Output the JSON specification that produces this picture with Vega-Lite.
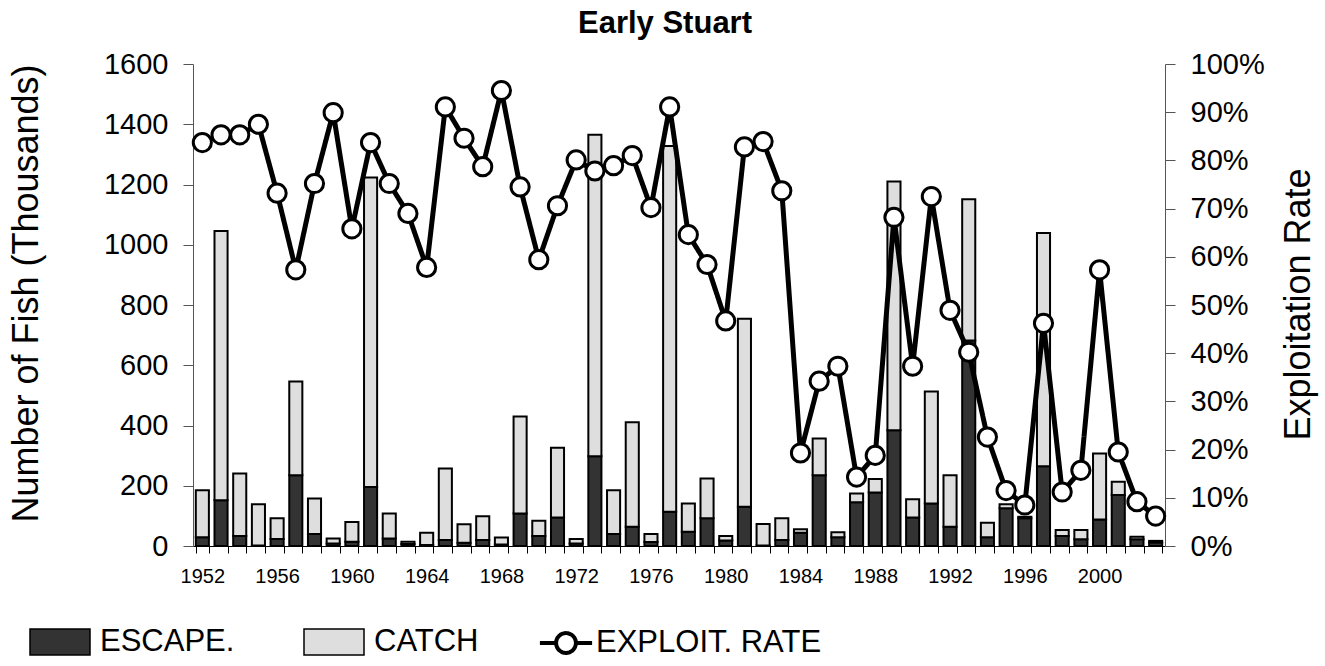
{
  "$schema": "https://vega.github.io/schema/vega-lite/v6.json",
  "width": 972,
  "height": 482,
  "autosize": {"type": "none"},
  "padding": {"left": 193, "top": 64, "right": 160, "bottom": 120},
  "background": "white",
  "config": {"font": "Liberation Sans", "view": {"stroke": null}, "axis": {"grid": false}},
  "title": {"text": "Early Stuart", "fontSize": 31, "fontWeight": "bold", "font": "Liberation Sans", "color": "black", "baseline": "alphabetic", "offset": -14, "dx": -14, "anchor": "middle"},
  "data": {"values": [
    {"year": 1952, "escape": 29, "catch": 156, "rate": 0.837},
    {"year": 1953, "escape": 152, "catch": 894, "rate": 0.853},
    {"year": 1954, "escape": 33, "catch": 208, "rate": 0.853},
    {"year": 1955, "escape": 2, "catch": 137, "rate": 0.875},
    {"year": 1956, "escape": 23, "catch": 69, "rate": 0.732},
    {"year": 1957, "escape": 235, "catch": 311, "rate": 0.573},
    {"year": 1958, "escape": 40, "catch": 118, "rate": 0.752},
    {"year": 1959, "escape": 8, "catch": 17, "rate": 0.899},
    {"year": 1960, "escape": 14, "catch": 66, "rate": 0.658},
    {"year": 1961, "escape": 196, "catch": 1027, "rate": 0.837},
    {"year": 1962, "escape": 25, "catch": 83, "rate": 0.752},
    {"year": 1963, "escape": 7, "catch": 7, "rate": 0.69},
    {"year": 1964, "escape": 3, "catch": 41, "rate": 0.578},
    {"year": 1965, "escape": 20, "catch": 237, "rate": 0.911},
    {"year": 1966, "escape": 11, "catch": 61, "rate": 0.846},
    {"year": 1967, "escape": 20, "catch": 79, "rate": 0.787},
    {"year": 1968, "escape": 5, "catch": 23, "rate": 0.945},
    {"year": 1969, "escape": 108, "catch": 322, "rate": 0.745},
    {"year": 1970, "escape": 33, "catch": 51, "rate": 0.594},
    {"year": 1971, "escape": 95, "catch": 231, "rate": 0.706},
    {"year": 1972, "escape": 8, "catch": 15, "rate": 0.801},
    {"year": 1973, "escape": 298, "catch": 1067, "rate": 0.778},
    {"year": 1974, "escape": 40, "catch": 145, "rate": 0.789},
    {"year": 1975, "escape": 64, "catch": 347, "rate": 0.81},
    {"year": 1976, "escape": 13, "catch": 27, "rate": 0.702},
    {"year": 1977, "escape": 114, "catch": 1214, "rate": 0.911},
    {"year": 1978, "escape": 47, "catch": 94, "rate": 0.646},
    {"year": 1979, "escape": 92, "catch": 132, "rate": 0.584},
    {"year": 1980, "escape": 18, "catch": 15, "rate": 0.467},
    {"year": 1981, "escape": 130, "catch": 624, "rate": 0.828},
    {"year": 1982, "escape": 2, "catch": 71, "rate": 0.839},
    {"year": 1983, "escape": 20, "catch": 72, "rate": 0.737},
    {"year": 1984, "escape": 44, "catch": 12, "rate": 0.193},
    {"year": 1985, "escape": 235, "catch": 122, "rate": 0.342},
    {"year": 1986, "escape": 29, "catch": 17, "rate": 0.373},
    {"year": 1987, "escape": 145, "catch": 29, "rate": 0.143},
    {"year": 1988, "escape": 178, "catch": 44, "rate": 0.188},
    {"year": 1989, "escape": 384, "catch": 826, "rate": 0.682},
    {"year": 1990, "escape": 95, "catch": 60, "rate": 0.373},
    {"year": 1991, "escape": 141, "catch": 372, "rate": 0.725},
    {"year": 1992, "escape": 64, "catch": 171, "rate": 0.489},
    {"year": 1993, "escape": 682, "catch": 469, "rate": 0.402},
    {"year": 1994, "escape": 29, "catch": 48, "rate": 0.226},
    {"year": 1995, "escape": 125, "catch": 14, "rate": 0.115},
    {"year": 1996, "escape": 92, "catch": 5, "rate": 0.085},
    {"year": 1997, "escape": 265, "catch": 774, "rate": 0.462},
    {"year": 1998, "escape": 33, "catch": 20, "rate": 0.112},
    {"year": 1999, "escape": 22, "catch": 31, "rate": 0.157},
    {"year": 2000, "escape": 88, "catch": 219, "rate": 0.573},
    {"year": 2001, "escape": 169, "catch": 44, "rate": 0.195},
    {"year": 2002, "escape": 22, "catch": 9, "rate": 0.092},
    {"year": 2003, "escape": 12, "catch": 5, "rate": 0.062}
  ]},
  "layer": [
    {
      "transform": [{"fold": ["escape", "catch"], "as": ["series", "value"]}],
      "mark": {"type": "bar", "stroke": "black", "strokeWidth": 2, "opacity": 1},
      "encoding": {
        "x": {"field": "year", "type": "ordinal", "scale": {"paddingInner": 0.3, "paddingOuter": 0.15},
          "axis": {"title": null, "labelAngle": 0, "labelExpr": "datum.value % 4 == 0 ? datum.label : ''", "labelOverlap": false, "tickBand": "extent", "tickSize": 7, "labelPadding": 13, "labelFontSize": 20, "labelColor": "black", "domainColor": "black", "tickColor": "black", "labelFont": "Liberation Sans"}},
        "y": {"field": "value", "type": "quantitative", "stack": "zero", "scale": {"domain": [0, 1600], "nice": false},
          "axis": {"orient": "left", "values": [0, 200, 400, 600, 800, 1000, 1200, 1400, 1600], "format": "d", "title": "Number of Fish (Thousands)", "titleFontSize": 36, "titleFontWeight": "normal", "titleFont": "Liberation Sans", "titleColor": "black", "titleX": -156, "titleY": 229, "titleAngle": 270, "titleBaseline": "alphabetic", "titleAlign": "center", "labelFontSize": 29, "labelPadding": 15, "labelColor": "black", "tickSize": 10, "tickColor": "#555555", "domainColor": "#555555"}},
        "color": {"field": "series", "type": "nominal",
          "scale": {"domain": ["escape", "catch"], "range": ["#333333", "#dedede"]},
          "legend": {
            "orient": "none", "legendX": -164, "legendY": 547, "direction": "horizontal", "title": null,
            "labelFont": "Liberation Sans", "labelFontSize": 31, "labelColor": "black", "labelOffset": 9,
            "symbolType": "M-1,-0.433H1V0.433H-1Z", "symbolSize": 3600, "columnPadding": 66, "labelLimit": 400,
            "symbolStrokeColor": "black", "symbolStrokeWidth": 1.5, "symbolOpacity": 1,
            "labelExpr": "datum.value == 'escape' ? 'ESCAPE.' : 'CATCH'"
          }},
        "order": {"field": "series", "sort": "descending"}
      }
    },
    {
      "encoding": {
        "x": {"field": "year", "type": "ordinal"},
        "y": {"field": "rate", "type": "quantitative", "scale": {"domain": [0, 1], "nice": false},
          "axis": {"orient": "right", "values": [0, 0.1, 0.2, 0.3, 0.4, 0.5, 0.6, 0.7, 0.8, 0.9, 1], "format": ".0%", "title": "Exploitation Rate", "titleFontSize": 36, "titleFontWeight": "normal", "titleFont": "Liberation Sans", "titleColor": "black", "titleX": 144, "titleY": 240, "titleAngle": 270, "titleBaseline": "alphabetic", "titleAlign": "center", "labelFontSize": 29, "labelPadding": 15, "labelColor": "black", "tickSize": 10, "tickColor": "#555555", "domainColor": "#555555"}}
      },
      "layer": [
        {"mark": {"type": "line", "strokeWidth": 5, "color": "black"},
          "encoding": {
            "strokeDash": {"datum": "EXPLOIT. RATE", "scale": {"range": [[1, 0]]},
              "legend": {
                "orient": "none", "legendX": 335, "legendY": 547, "title": null,
                "labelFont": "Liberation Sans", "labelFontSize": 31, "labelColor": "black", "labelOffset": 4, "labelLimit": 400,
                "symbolType": "M-0.67,0H-0.13M0.53,0H1.07M0.53,0A0.33,0.33 0 1 1 -0.13,0A0.33,0.33 0 1 1 0.53,0",
                "symbolSize": 3600, "symbolFillColor": "white", "symbolStrokeColor": "black", "symbolStrokeWidth": 4, "symbolOpacity": 1
              }}
          }},
        {"mark": {"type": "point", "filled": true, "fill": "white", "stroke": "black", "strokeWidth": 3, "size": 330, "opacity": 1}, "encoding": {}}
      ]
    }
  ],
  "resolve": {"scale": {"y": "independent"}}
}
